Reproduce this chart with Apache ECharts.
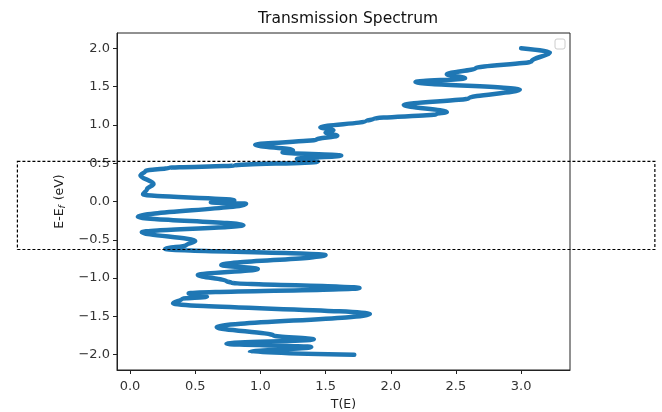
<!DOCTYPE html>
<html>
<head>
<meta charset="utf-8">
<script src="https://cdn.jsdelivr.net/npm/echarts@6/dist/echarts.min.js"></script>
<style>
html,body{margin:0;padding:0;background:#fff;}
#chart{width:662px;height:412px;}
</style>
</head>
<body>
<div id="chart"></div>
<script>
// Energy (E - Ef, eV) and transmission T(E), bottom to top
const energy = [
  -2.00, -1.965, -1.90, -1.857, -1.80, -1.75, -1.64, -1.47, -1.33, -1.27,
  -1.245, -1.20, -1.13, -1.06, -1.04, -0.96, -0.88, -0.83, -0.70, -0.62,
  -0.57, -0.515, -0.40, -0.31, -0.20, -0.03, -0.01, 0.015, 0.09, 0.16,
  0.23, 0.34, 0.40, 0.44, 0.47, 0.52, 0.555, 0.60, 0.64, 0.67,
  0.74, 0.81, 0.86, 0.90, 0.93, 0.97, 1.05, 1.08, 1.14, 1.17,
  1.26, 1.35, 1.46, 1.56, 1.61, 1.66, 1.74, 1.83, 1.95, 2.00
];
const transmission = [
  1.72, 0.92, 1.39, 0.74, 1.41, 1.10, 0.665, 1.84, 0.33, 0.40,
  0.59, 0.45, 1.76, 0.78, 0.74, 0.52, 0.98, 0.70, 1.50, 0.27,
  0.43, 0.50, 0.09, 0.87, 0.06, 0.89, 0.62, 0.80, 0.10, 0.13,
  0.18, 0.08, 0.12, 0.30, 0.80, 1.44, 1.28, 1.62, 1.17, 1.25,
  0.96, 1.43, 1.59, 1.50, 1.56, 1.46, 1.81, 1.87, 2.35, 2.43,
  2.10, 2.60, 2.99, 2.19, 2.57, 2.43, 2.65, 3.08, 3.22, 3.00
];
const xTicks = [0, 0.5, 1.0, 1.5, 2.0, 2.5, 3.0];
const yTicks = [-2.0, -1.5, -1.0, -0.5, 0.0, 0.5, 1.0, 1.5, 2.0];
// highlighted window (dashed box), in data units
const boxE = [-0.627, 0.523];
const boxT = [-0.864, 4.026];

const FONT = 'DejaVu Sans';
const fmt = v => (v < 0 ? '\u2212' : '') + Math.abs(v).toFixed(1);

const chart = echarts.init(document.getElementById('chart'), null, {renderer: 'canvas'});
const seriesData = transmission.map((t, i) => [t, energy[i]]);

chart.setOption({
  animation: false,
  backgroundColor: '#fff',
  title: {
    text: 'Transmission Spectrum',
    left: 343, top: 6, textAlign: 'center',
    textStyle: {fontFamily: FONT, fontSize: 15.5, fontWeight: 'normal', color: '#111'}
  },
  grid: {
    left: 117, right: 92, top: 33, bottom: 42,
    outerBoundsMode: 'none', containLabel: false,
    show: true, borderColor: '#222', borderWidth: 1, backgroundColor: 'transparent'
  },
  xAxis: {
    type: 'value', min: -0.1, max: 3.375,
    name: 'T(E)', nameLocation: 'middle', nameGap: 27,
    nameTextStyle: {fontFamily: FONT, fontSize: 12.5, color: '#222'},
    axisLine: {show: true, onZero: false, lineStyle: {color: '#222', width: 1}},
    axisTick: {show: true, inside: false, length: 4, customValues: xTicks, lineStyle: {color: '#222'}},
    axisLabel: {customValues: xTicks, formatter: fmt, margin: 10, fontFamily: FONT, fontSize: 13, color: '#333'},
    splitLine: {show: false}
  },
  yAxis: {
    type: 'value', min: -2.2, max: 2.2,
    name: 'E-E{sub|f} (eV)', nameLocation: 'middle', nameGap: 37, nameRotate: 90,
    nameTextStyle: {
      fontFamily: FONT, fontSize: 12.5, color: '#222',
      rich: {sub: {fontFamily: FONT, fontSize: 9, fontStyle: 'italic', color: '#222', verticalAlign: 'bottom', padding: [6, 1, 0, 0]}}
    },
    axisLine: {show: true, onZero: false, lineStyle: {color: '#222', width: 1}},
    axisTick: {show: true, inside: false, length: 4, customValues: yTicks, lineStyle: {color: '#222'}},
    axisLabel: {customValues: yTicks, formatter: fmt, margin: 7, fontFamily: FONT, fontSize: 13, color: '#333'},
    splitLine: {show: false}
  },
  series: [{
    type: 'line',
    data: seriesData,
    showSymbol: false,
    smooth: 0.35,
    smoothMonotone: 'y',
    lineStyle: {color: '#1f77b4', width: 4.5, cap: 'round', join: 'round'},
    z: 2
  }]
});

const p1 = chart.convertToPixel({gridIndex: 0}, [boxT[0], boxE[1]]);
const p2 = chart.convertToPixel({gridIndex: 0}, [boxT[1], boxE[0]]);
chart.setOption({
  graphic: [
    {
      type: 'rect', z: 100, silent: true,
      shape: {x: p1[0], y: p1[1], width: p2[0] - p1[0], height: p2[1] - p1[1]},
      style: {fill: 'none', stroke: '#000', lineWidth: 1.2, lineDash: [3, 2]}
    },
    {
      type: 'rect', z: 100, silent: true,
      shape: {x: 555, y: 39, width: 10, height: 10, r: 2},
      style: {fill: '#fff', stroke: '#ccc', lineWidth: 1}
    }
  ]
});
</script>
</body>
</html>
